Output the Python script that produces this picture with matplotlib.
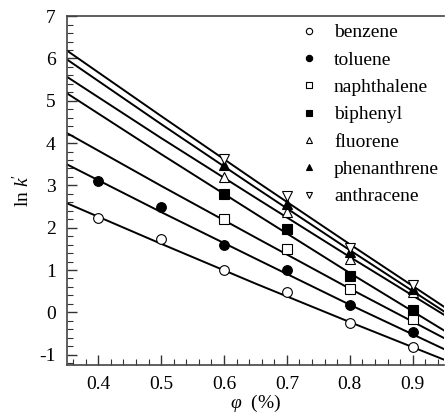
import numpy as np
import matplotlib
matplotlib.use('Agg')
import matplotlib.pyplot as plt
from matplotlib.ticker import MultipleLocator

plt.rcParams['font.family'] = 'Liberation Serif'
plt.rcParams['mathtext.fontset'] = 'custom'
plt.rcParams['mathtext.rm'] = 'Liberation Serif'
plt.rcParams['mathtext.it'] = 'Liberation Serif:italic'

names = ['benzene', 'toluene', 'naphthalene', 'biphenyl', 'fluorene', 'phenanthrene', 'anthracene']
markers = ['o', 'o', 's', 's', '^', '^', 'v']
filled = [False, True, False, True, False, True, False]

# measured points
phi_all = [0.4, 0.5, 0.6, 0.7, 0.8, 0.9]
phi_big = [0.6, 0.7, 0.8, 0.9]
benzene = [2.23, 1.74, 0.99, 0.47, -0.25, -0.83]
toluene = [3.11, 2.50, 1.60, 1.01, 0.17, -0.46]
naphthalene = [2.20, 1.50, 0.54, -0.15]
biphenyl = [2.80, 1.98, 0.87, 0.06]
fluorene = [3.21, 2.38, 1.26, 0.47]
phenanthrene = [3.49, 2.57, 1.43, 0.54]
anthracene = [3.62, 2.74, 1.52, 0.65]

# fitted curves
phi_fit = [0.35, 0.5, 0.65, 0.8, 0.95]
fit_lines = [
    [2.58, 1.62, 0.68, -0.23, -1.12],
    [3.50, 2.37, 1.27, 0.18, -0.87],
    [4.24, 2.99, 1.77, 0.56, -0.61],
    [5.18, 3.74, 2.33, 0.93, -0.43],
    [5.57, 4.12, 2.71, 1.31, -0.06],
    [5.98, 4.45, 2.95, 1.47, 0.02],
    [6.19, 4.64, 3.11, 1.61, 0.13],
]

points = [benzene, toluene, naphthalene, biphenyl, fluorene, phenanthrene, anthracene]

fig = plt.figure(figsize=(4.45, 4.15), dpi=100)
ax = fig.add_axes([0.15, 0.12, 0.848, 0.841])

for line in fit_lines:
    ax.plot(phi_fit, line, color='black', lw=1.4, zorder=2)

for i, name in enumerate(names):
    x = phi_all if len(points[i]) == 6 else phi_big
    fc = 'black' if filled[i] else 'white'
    ms = 7 if markers[i] == 'o' else 7.5
    ax.plot(x, points[i], linestyle='none', marker=markers[i], ms=ms,
            mfc=fc, mec='black', mew=0.8, label=name, zorder=3)

ax.set_xlim(0.35, 0.95)
ax.set_ylim(-1.25, 7)
ax.xaxis.set_minor_locator(MultipleLocator(0.02))
ax.yaxis.set_minor_locator(MultipleLocator(0.2))
ax.tick_params(which='both', direction='in', top=False, right=False, labelsize=14, colors='#333333')
ax.tick_params(which='major', length=7, width=1.0, pad=8)
ax.tick_params(which='minor', length=4, width=0.8)
ax.set_xticks([0.4, 0.5, 0.6, 0.7, 0.8, 0.9])
ax.set_xticklabels(['0.4', '0.5', '0.6', '0.7', '0.8', '0.9'])
ax.set_yticks(range(-1, 8))
ax.set_yticklabels(['-1', '0', '1', '2', '3', '4', '5', '6', '7'])
for tl in ax.get_xticklabels() + ax.get_yticklabels():
    tl.set_color('black')

for s in ['left', 'bottom', 'top']:
    ax.spines[s].set_color('#444444')
    ax.spines[s].set_linewidth(1.2)
ax.spines['right'].set_visible(False)

ax.set_xlabel(r'$\it{\varphi}$  (%)', fontsize=14, labelpad=0)
ax.set_ylabel(r'ln $\it{k}$$^{\prime}$', fontsize=14, labelpad=4)

leg = ax.legend(loc='upper left', bbox_to_anchor=(0.616, 0.978), frameon=False,
                fontsize=14, markerscale=0.65, handlelength=1.0,
                handletextpad=0.79, labelspacing=0.5,
                borderpad=0, borderaxespad=0)

fig.savefig('out.png', dpi=100)
